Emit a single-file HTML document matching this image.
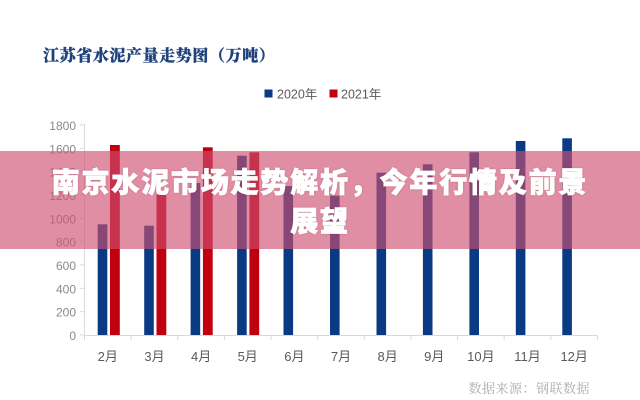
<!DOCTYPE html>
<html>
<head>
<meta charset="utf-8">
<style>
html,body{margin:0;padding:0;background:#fff;}
body{width:640px;height:400px;position:relative;overflow:hidden;font-family:"Liberation Sans","Noto Sans CJK SC",sans-serif;}
.title{position:absolute;left:43px;top:43px;font-family:"Noto Serif CJK SC","Liberation Serif",serif;font-weight:900;font-size:16px;color:#1f417c;letter-spacing:0.6px;white-space:nowrap;-webkit-text-stroke:0.3px #1f417c;}
.band{position:absolute;left:0;top:151px;width:640px;height:98px;background:rgba(207,78,112,0.64);}
.head{position:absolute;left:0;top:162px;width:640px;text-align:center;color:#fff;font-family:"Noto Sans CJK SC","WenQuanYi Zen Hei",sans-serif;font-weight:900;font-size:28px;line-height:39px;letter-spacing:1.8px;-webkit-text-stroke:0.8px #fff;text-shadow:0 0 2px rgba(80,0,30,0.35);white-space:nowrap;}
svg{position:absolute;left:0;top:0;}
</style>
</head>
<body>
<div class="title">江苏省水泥产量走势图（万吨）</div>
<svg width="640" height="400" viewBox="0 0 640 400" xmlns="http://www.w3.org/2000/svg">
  <!-- legend -->
  <rect x="264.5" y="89.5" width="8" height="8" fill="#0b3a84"/>
  <text x="277" y="98.5" font-family="Liberation Sans, Noto Sans CJK SC, sans-serif" font-size="12.5" fill="#595959">2020年</text>
  <rect x="329.5" y="89.5" width="8" height="8" fill="#c0000f"/>
  <text x="341" y="98.5" font-family="Liberation Sans, Noto Sans CJK SC, sans-serif" font-size="12.5" fill="#595959">2021年</text>

  <!-- y axis -->
  <line x1="84.5" y1="124" x2="84.5" y2="335" stroke="#d9d9d9" stroke-width="1"/>
  <g stroke="#d9d9d9" stroke-width="1">
    <line x1="80" y1="125" x2="84.5" y2="125"/>
    <line x1="80" y1="148.3" x2="84.5" y2="148.3"/>
    <line x1="80" y1="171.7" x2="84.5" y2="171.7"/>
    <line x1="80" y1="195" x2="84.5" y2="195"/>
    <line x1="80" y1="218.3" x2="84.5" y2="218.3"/>
    <line x1="80" y1="241.7" x2="84.5" y2="241.7"/>
    <line x1="80" y1="265" x2="84.5" y2="265"/>
    <line x1="80" y1="288.3" x2="84.5" y2="288.3"/>
    <line x1="80" y1="311.7" x2="84.5" y2="311.7"/>
    <line x1="80" y1="335" x2="84.5" y2="335"/>
  </g>
  <g font-family="Liberation Sans, sans-serif" font-size="12" fill="#8a8a8a" text-anchor="end">
    <text x="76" y="130">1800</text>
    <text x="76" y="153.3">1600</text>
    <text x="76" y="176.7">1400</text>
    <text x="76" y="200">1200</text>
    <text x="76" y="223.3">1000</text>
    <text x="76" y="246.7">800</text>
    <text x="76" y="270">600</text>
    <text x="76" y="293.3">400</text>
    <text x="76" y="316.7">200</text>
    <text x="76" y="340">0</text>
  </g>

  <!-- bars 2020 -->
  <g fill="#0b3a84">
    <rect x="97.7" y="224.3" width="9.6" height="110.7"/>
    <rect x="144.2" y="225.7" width="9.6" height="109.3"/>
    <rect x="190.6" y="183" width="9.6" height="152"/>
    <rect x="237.1" y="155.7" width="9.6" height="179.3"/>
    <rect x="283.5" y="186" width="9.6" height="149"/>
    <rect x="330" y="195.7" width="9.6" height="139.3"/>
    <rect x="376.5" y="172.7" width="9.6" height="162.3"/>
    <rect x="422.9" y="164.3" width="9.6" height="170.7"/>
    <rect x="469.4" y="152.3" width="9.6" height="182.7"/>
    <rect x="515.8" y="141" width="9.6" height="194"/>
    <rect x="562.3" y="138.3" width="9.6" height="196.7"/>
  </g>
  <!-- bars 2021 -->
  <g fill="#c0000f">
    <rect x="110" y="145" width="9.8" height="190"/>
    <rect x="156.5" y="194.3" width="9.8" height="140.7"/>
    <rect x="202.9" y="147.3" width="9.8" height="187.7"/>
    <rect x="249.4" y="152.3" width="9.8" height="182.7"/>
  </g>

  <!-- x axis -->
  <line x1="84.5" y1="335.5" x2="597.5" y2="335.5" stroke="#d9d9d9" stroke-width="1"/>
  <g stroke="#d9d9d9" stroke-width="1">
    <line x1="84.5" y1="335" x2="84.5" y2="340"/>
    <line x1="131.1" y1="335" x2="131.1" y2="340"/>
    <line x1="177.8" y1="335" x2="177.8" y2="340"/>
    <line x1="224.4" y1="335" x2="224.4" y2="340"/>
    <line x1="271" y1="335" x2="271" y2="340"/>
    <line x1="317.7" y1="335" x2="317.7" y2="340"/>
    <line x1="364.3" y1="335" x2="364.3" y2="340"/>
    <line x1="410.9" y1="335" x2="410.9" y2="340"/>
    <line x1="457.6" y1="335" x2="457.6" y2="340"/>
    <line x1="504.2" y1="335" x2="504.2" y2="340"/>
    <line x1="550.8" y1="335" x2="550.8" y2="340"/>
    <line x1="597.5" y1="335" x2="597.5" y2="340"/>
  </g>
  <g font-family="Liberation Sans, Noto Sans CJK SC, sans-serif" font-size="13" fill="#595959" text-anchor="middle">
    <text x="107.8" y="361">2月</text>
    <text x="154.5" y="361">3月</text>
    <text x="201.1" y="361">4月</text>
    <text x="247.7" y="361">5月</text>
    <text x="294.4" y="361">6月</text>
    <text x="341" y="361">7月</text>
    <text x="387.6" y="361">8月</text>
    <text x="434.3" y="361">9月</text>
    <text x="480.9" y="361">10月</text>
    <text x="527.5" y="361">11月</text>
    <text x="574.2" y="361">12月</text>
  </g>

  <text x="590" y="393" text-anchor="end" font-family="Noto Serif CJK SC, Liberation Serif, serif" font-size="13" fill="#ababab" letter-spacing="0.5">数据来源：钢联数据</text>
</svg>
<div class="band"></div>
<div class="head">南京水泥市场走势解析，今年行情及前景<br>展望</div>
</body>
</html>
